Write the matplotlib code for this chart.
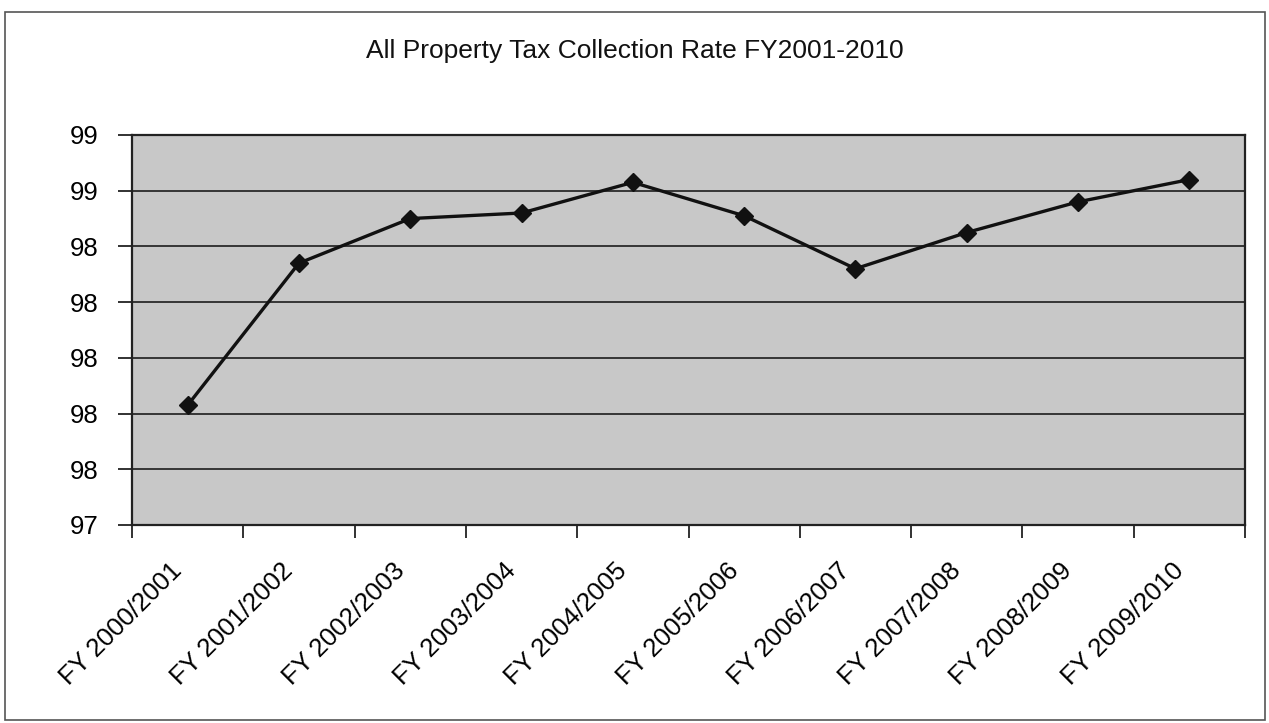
import matplotlib

matplotlib.use("Agg")
import matplotlib.pyplot as plt
from matplotlib.patches import Rectangle
from matplotlib.ticker import FuncFormatter, FixedLocator
from matplotlib.transforms import ScaledTranslation

plt.rcParams["font.family"] = ["Liberation Sans", "DejaVu Sans"]

YEARS = ["FY 2000/2001", "FY 2001/2002", "FY 2002/2003", "FY 2003/2004", "FY 2004/2005",
         "FY 2005/2006", "FY 2006/2007", "FY 2007/2008", "FY 2008/2009", "FY 2009/2010"]
RATE = [97.83, 98.34, 98.50, 98.52, 98.63, 98.51, 98.32, 98.45, 98.56, 98.64]
Y_TICKS = [97.4, 97.6, 97.8, 98.0, 98.2, 98.4, 98.6, 98.8]

W, H = 1269, 723
fig = plt.figure(figsize=(W / 100, H / 100), dpi=100)
fig.patch.set_facecolor("white")

# outer chart frame
fig.patches.append(Rectangle((5 / W, 1 - 720 / H), 1260 / W, 708 / H, transform=fig.transFigure,
                             fill=False, edgecolor="#555555", lw=1.2))

ax = fig.add_axes([132 / W, 1 - 525 / H, (1245 - 132) / W, (525 - 135) / H])
ax.set_facecolor("#c8c8c8")

xs = list(range(len(YEARS)))
ax.plot(xs, RATE, color="#111111", lw=2.4, marker="D", ms=9, mfc="#111111", mec="#111111", zorder=3)

ax.set_ylim(Y_TICKS[0], Y_TICKS[-1])
ax.set_yticks(Y_TICKS)
ax.yaxis.set_major_formatter(FuncFormatter(lambda v, p: f"{v:.0f}"))
ax.grid(axis="y", color="#2a2a2a", lw=1.3)
ax.set_axisbelow(True)

ax.set_xlim(-0.5, len(YEARS) - 0.5)
ax.xaxis.set_major_locator(FixedLocator([i - 0.5 for i in range(len(YEARS) + 1)]))
ax.xaxis.set_major_formatter(FuncFormatter(lambda v, p: ""))
ax.xaxis.set_minor_locator(FixedLocator(xs))
ax.set_xticklabels(YEARS, minor=True, rotation=45, ha="right", rotation_mode="anchor")
ax.tick_params(axis="x", which="minor", length=0, pad=24, labelsize=18.5)
ax.tick_params(axis="x", which="major", length=9, width=1.3, color="#222222")
ax.tick_params(axis="y", length=10, width=1.3, color="#222222", labelsize=18.5, pad=14)
shift = ScaledTranslation(-18 / 100, 0, fig.dpi_scale_trans)
for lab in ax.get_xticklabels(minor=True):
    lab.set_transform(lab.get_transform() + shift)

for s in ax.spines.values():
    s.set_color("#222222")
    s.set_linewidth(1.6)

fig.text(0.5, 1 - 51 / H, "All Property Tax Collection Rate FY2001-2010", ha="center", va="center",
         fontsize=19, color="#111111")

fig.savefig("out.png", dpi=100)
